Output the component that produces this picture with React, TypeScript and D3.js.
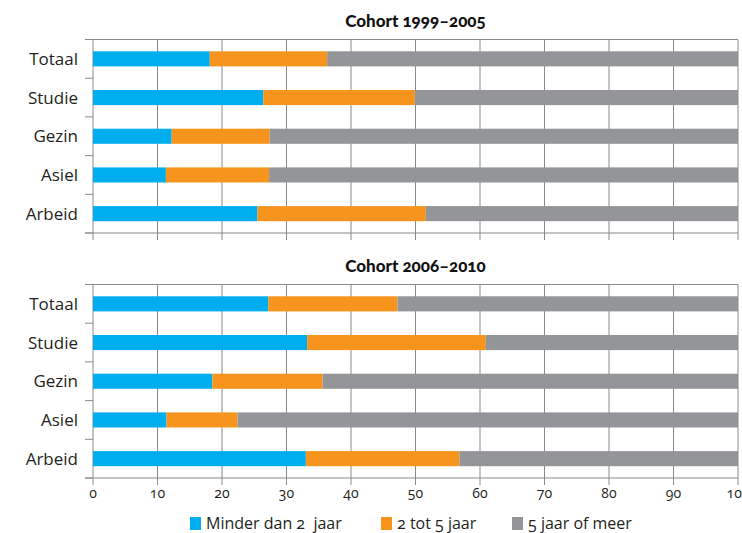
import React from 'react';
import * as d3 from 'd3';

const categories = ['Totaal', 'Studie', 'Gezin', 'Asiel', 'Arbeid'];
const seriesNames = ['Minder dan 2  jaar', '2 tot 5 jaar', '5 jaar of meer'];
const colors = ['#00aeef', '#f7941d', '#939598'];

// share per cohort, in percent
const cohort1Title = 'Cohort 1999–2005';
const cohort1Short = [18.1, 26.4, 12.2, 11.3, 25.5];
const cohort1Mid = [18.2, 23.5, 15.2, 16.0, 26.1];
const cohort1Long = [63.7, 50.1, 72.6, 72.7, 48.4];

const cohort2Title = 'Cohort 2006–2010';
const cohort2Short = [27.2, 33.2, 18.5, 11.4, 33.0];
const cohort2Mid = [20.0, 27.7, 17.1, 11.0, 23.8];
const cohort2Long = [52.8, 39.1, 64.4, 77.6, 43.2];

const xTicks = [0, 10, 20, 30, 40, 50, 60, 70, 80, 90, 100];

const W = 742;
const H = 533;
const left = 93;
const right = 738;
const font = '"Open Sans", Lato, sans-serif';
const titleFont = 'Lato, "Open Sans", sans-serif';
const gridColor = '#8a8a8a';

const x = d3.scaleLinear().domain([0, 100]).range([left, right]);

type PanelProps = {
  title: string;
  short: number[];
  mid: number[];
  long: number[];
  top: number;
  showAxis: boolean;
};

function Panel({ title, short, mid, long, top, showAxis }: PanelProps) {
  const bottom = top + 193.5;
  const y = d3.scaleBand<string>()
    .domain(categories)
    .range([top, bottom])
    .paddingInner(0.61)
    .paddingOuter(0.305);
  const step = y.step();

  const rows = categories.map((c, i) => ({ '0': short[i], '1': mid[i], '2': long[i] }));
  const stack = d3.stack<any>().keys(['0', '1', '2'])(rows);

  return (
    <g>
      <text x={(left + right) / 2} y={top - 12.5} textAnchor="middle" fontFamily={titleFont}
        fontWeight={900} fontSize={17} fill="#111" style={{ fontFeatureSettings: '"onum"' }}>
        {title}
      </text>
      {/* grid */}
      {xTicks.map(t => (
        <line key={t} x1={x(t)} x2={x(t)} y1={top} y2={bottom + 7} stroke={gridColor} strokeWidth={1} />
      ))}
      <line x1={left - 8} x2={right} y1={top} y2={top} stroke={gridColor} strokeWidth={1} />
      <line x1={left - 8} x2={right} y1={bottom} y2={bottom} stroke={gridColor} strokeWidth={1} />
      {d3.range(categories.length + 1).map(i => (
        <line key={i} x1={left - 8} x2={left} y1={top + i * step} y2={top + i * step} stroke={gridColor} strokeWidth={1} />
      ))}
      {/* bars */}
      {stack.map((s, si) => (
        <g key={si}>
          {s.map((d, i) => (
            <rect key={i} x={x(d[0])} y={y(categories[i])} width={x(d[1]) - x(d[0])} height={y.bandwidth()} fill={colors[si]} />
          ))}
        </g>
      ))}
      {categories.map(c => (
        <text key={c} x={78} y={(y(c) as number) + y.bandwidth() / 2} dy="0.36em" textAnchor="end"
          fontFamily={font} fontSize={17} fill="#231f20">{c}</text>
      ))}
      {showAxis && xTicks.map(t => (
        <text key={t} x={x(t)} y={bottom + 20} textAnchor="middle" fontFamily={font} fontSize={14}
          fill="#231f20" style={{ fontFeatureSettings: '"onum"' }}>{t}</text>
      ))}
    </g>
  );
}

export default function App() {
  const legendX = [190, 381, 512];
  return (
    <svg width={W} height={H} style={{ position: 'absolute', left: 0, top: 0, background: '#fff' }}>
      <Panel title={cohort1Title} short={cohort1Short} mid={cohort1Mid} long={cohort1Long} top={39.5} showAxis={false} />
      <Panel title={cohort2Title} short={cohort2Short} mid={cohort2Mid} long={cohort2Long} top={284.5} showAxis={true} />
      {seriesNames.map((n, i) => (
        <g key={n}>
          <rect x={legendX[i]} y={517} width={11} height={13} fill={colors[i]} />
          <text x={legendX[i] + 16} y={529} fontFamily={font} fontSize={16} fill="#231f20"
            style={{ fontFeatureSettings: '"onum"', whiteSpace: 'pre' }}>{n}</text>
        </g>
      ))}
    </svg>
  );
}
